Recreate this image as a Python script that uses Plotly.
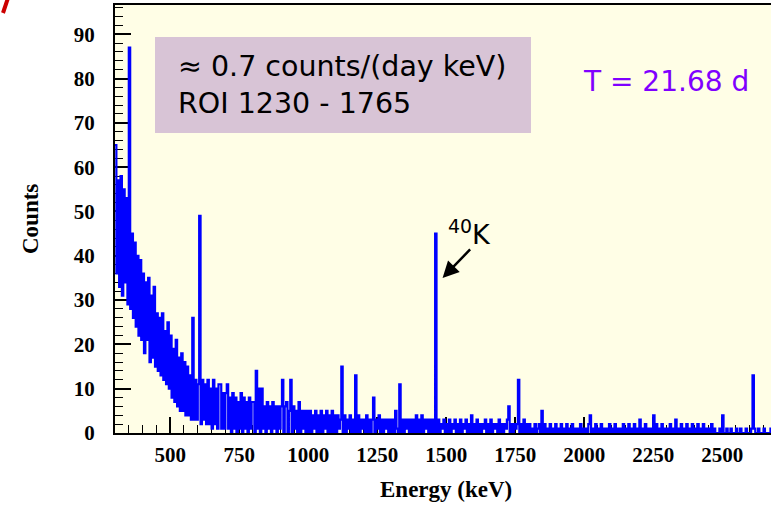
import plotly.graph_objects as go

# Gamma spectrum: counts per 5 keV bin, bins starting at 300 keV
bin_width = 5
first_edge = 300

counts_300_800 = [
    65, 36, 57, 33, 58, 31, 55, 34, 53, 29, 87, 28, 45, 26, 43, 24, 40, 22, 39, 21,
    36, 18, 34, 21, 35, 16, 31, 17, 33, 15, 27, 14, 26, 13, 27, 12, 23, 11, 25, 10,
    22, 8, 19, 7, 21, 6, 17, 5, 18, 5, 16, 4, 15, 4, 13, 3, 26, 3, 12, 3,
    11, 49, 2, 12, 3, 11, 2, 12, 2, 10, 1, 12, 2, 10, 1, 11, 11, 1, 9, 1,
    9, 11, 1, 8, 0, 9, 1, 8, 0, 7, 1, 9, 0, 8, 1, 7, 0, 8, 1, 7,
]
counts_800_1300 = [
    7, 0, 14, 1, 10, 0, 10, 1, 6, 0, 7, 1, 6, 0, 7, 1, 6, 0, 6, 1,
    6, 12, 0, 6, 7, 0, 5, 12, 0, 6, 1, 5, 0, 7, 0, 5, 1, 5, 0, 5,
    0, 5, 0, 4, 1, 5, 0, 4, 0, 5, 0, 4, 1, 5, 0, 4, 0, 5, 0, 4,
    0, 4, 1, 3, 15, 0, 4, 0, 3, 1, 4, 0, 3, 0, 13, 0, 4, 0, 3, 1,
    3, 0, 4, 0, 3, 0, 3, 8, 0, 3, 1, 4, 0, 3, 0, 3, 1, 3, 0, 3,
]
counts_1300_1800 = [
    0, 3, 0, 5, 1, 0, 11, 0, 3, 0, 3, 1, 3, 0, 3, 0, 3, 0, 4, 0,
    3, 0, 4, 0, 3, 1, 3, 0, 3, 0, 3, 0, 45, 0, 3, 0, 2, 1, 3, 0,
    2, 0, 3, 0, 2, 1, 3, 0, 2, 0, 3, 0, 2, 1, 3, 0, 2, 0, 4, 0,
    2, 0, 3, 0, 2, 0, 2, 1, 3, 0, 2, 0, 3, 0, 2, 1, 2, 0, 3, 0,
    2, 0, 2, 1, 3, 6, 0, 2, 0, 2, 1, 2, 12, 0, 2, 0, 3, 0, 2, 0,
]
counts_1800_2300 = [
    2, 0, 1, 0, 2, 0, 1, 2, 0, 5, 0, 2, 0, 1, 0, 2, 0, 1, 0, 2,
    0, 1, 0, 2, 0, 1, 0, 2, 0, 1, 0, 2, 0, 1, 0, 1, 0, 2, 0, 1,
    0, 1, 0, 2, 4, 0, 1, 0, 2, 0, 1, 0, 2, 0, 1, 0, 1, 0, 2, 0,
    1, 0, 2, 0, 1, 0, 1, 0, 2, 0, 1, 0, 2, 0, 1, 0, 2, 0, 1, 0,
    3, 0, 1, 0, 2, 0, 1, 0, 1, 0, 4, 0, 2, 0, 1, 0, 2, 0, 1, 0,
]
counts_2300_2680 = [
    1, 0, 2, 0, 1, 0, 3, 0, 1, 0, 2, 0, 1, 0, 2, 0, 1, 0, 2, 0,
    1, 0, 2, 0, 1, 0, 2, 0, 1, 0, 1, 0, 2, 0, 1, 0, 0, 0, 1, 0,
    4, 0, 0, 1, 0, 0, 1, 0, 0, 0, 1, 0, 0, 1, 0, 0, 0, 1, 0, 0,
    0, 1, 13, 1, 0, 0, 1, 0, 0, 0, 1, 0, 0, 0, 0, 1,
]

counts = counts_300_800 + counts_800_1300 + counts_1300_1800 + counts_1800_2300 + counts_2300_2680
edges = [first_edge + i * bin_width for i in range(len(counts) + 1)]
step_y = counts + [counts[-1]]

x_range = [300, 2677]
y_range = [0, 96.6]

# layout geometry (pixels)
W, H = 771, 505
ML, MR, MT, MB = 115, 0, 5, 72
PW, PH = W - ML - MR, H - MT - MB


def px(x):
    return (x - ML) / PW


def py(y):
    return (H - MB - y) / PH


tick_font = dict(family="Liberation Serif, Times New Roman, serif", size=21, color="black", weight="bold")
title_font = dict(family="Liberation Serif, Times New Roman, serif", size=23, color="black", weight="bold")
label_family = "Comic Sans MS, DejaVu Sans, Noto Sans, sans-serif"
label_font = dict(family=label_family, size=28.5, color="black")

fig = go.Figure()
fig.add_trace(go.Scatter(
    x=edges, y=step_y, mode="lines", line=dict(color="#0000ff", width=2.2, shape="hv"),
    hoverinfo="skip", showlegend=False,
))

axis_common = dict(
    showline=True, linecolor="black", linewidth=2, showgrid=False, zeroline=False,
    ticks="inside", ticklen=16, tickwidth=1.5, tickcolor="black", layer="below traces",
    tickfont=tick_font,
)

fig.update_layout(
    width=W, height=H,
    margin=dict(l=ML, r=MR, t=MT, b=MB),
    paper_bgcolor="white", plot_bgcolor="#fffee6",
    xaxis=dict(range=x_range, tickmode="linear", tick0=0, dtick=250, mirror=True,
               minor=dict(dtick=50, ticks="inside", ticklen=8, tickwidth=1.2, tickcolor="black"),
               ticklabelstandoff=2, **axis_common),
    yaxis=dict(range=y_range, tickmode="linear", tick0=0, dtick=10,
               minor=dict(dtick=2, ticks="inside", ticklen=8, tickwidth=1.2, tickcolor="black"),
               ticklabelstandoff=14, **axis_common),
    shapes=[
        dict(type="rect", xref="paper", yref="paper", x0=px(155), x1=px(531), y0=py(133), y1=py(37),
             fillcolor="#d8c4d6", line=dict(width=0), layer="above"),
        dict(type="line", xref="paper", yref="paper", x0=px(3), y0=py(13), x1=px(8), y1=py(-2),
             line=dict(color="#cc0000", width=4)),
    ],
    annotations=[
        dict(xref="paper", yref="paper", x=px(176), y=py(66.5), xanchor="left", yanchor="middle",
             text="≈ 0.7 counts/(day keV)", showarrow=False, font=label_font),
        dict(xref="paper", yref="paper", x=px(176), y=py(103.5), xanchor="left", yanchor="middle",
             text="ROI 1230 - 1765", showarrow=False, font=label_font),
        dict(xref="paper", yref="paper", x=px(666), y=py(81), xanchor="center", yanchor="middle",
             text="T = 21.68 d", showarrow=False,
             font=dict(family=label_family, size=28, color="#7f00ff")),
        dict(xref="x", yref="y", x=1584, y=45.2, xanchor="center", yanchor="middle",
             text="<sup>40</sup>K", showarrow=False, font=dict(family=label_family, size=27, color="black")),
        dict(xref="x", yref="y", x=1487, y=35.0, ax=29, ay=-30, text="", showarrow=True,
             arrowhead=2, arrowsize=1.3, arrowwidth=2.5, arrowcolor="black"),
        dict(xref="paper", yref="paper", x=px(446), y=py(490), xanchor="center", yanchor="middle",
             text="Energy (keV)", showarrow=False, font=title_font),
        dict(xref="paper", yref="paper", x=px(30), y=py(219), xanchor="center", yanchor="middle",
             text="Counts", textangle=-90, showarrow=False, font=title_font),
    ],
)

fig.write_html("out.html")
